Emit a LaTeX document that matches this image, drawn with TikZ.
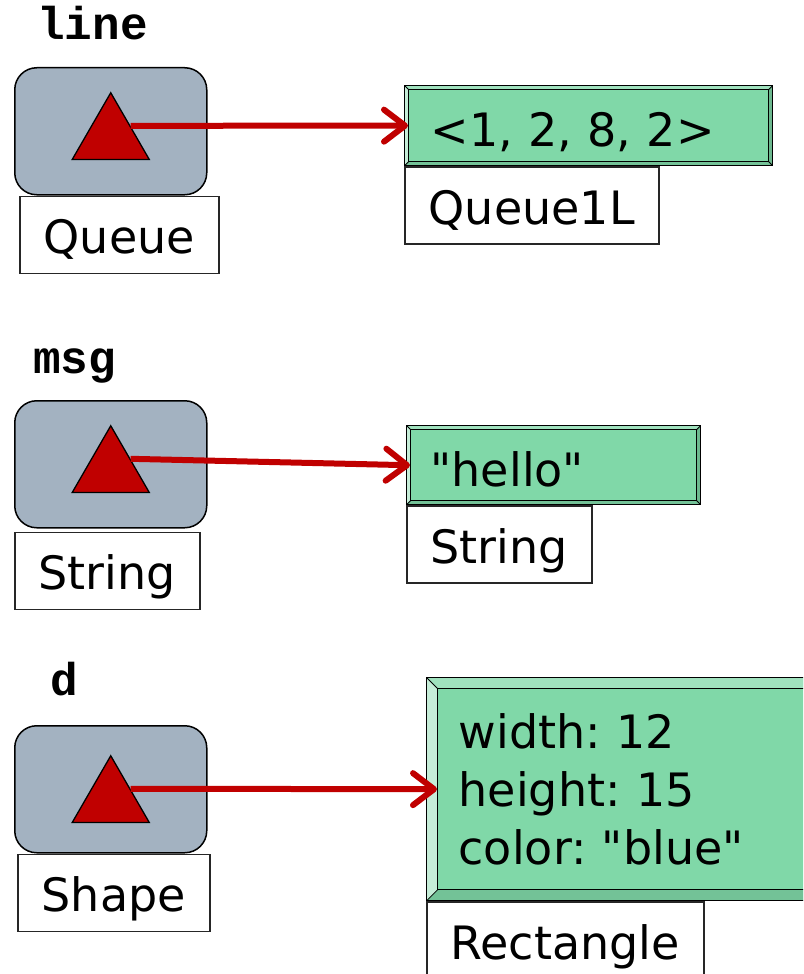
\documentclass[tikz,border=0pt]{standalone}
\usepackage{fontspec}
\setmainfont{DejaVu Sans}[WordSpace=1.25]
\setmonofont{Liberation Mono}
\usetikzlibrary{arrows.meta,positioning,shapes.geometric}
\definecolor{refgray}{HTML}{A3B2C1}
\definecolor{ptrred}{HTML}{C00000}
\definecolor{valgreen}{HTML}{80D8A8}
\frenchspacing

\begin{document}
\begin{tikzpicture}[
    x=1pt, y=-1pt,
    font=\fontsize{46pt}{58pt}\selectfont,
    varname/.style={font=\fontsize{46pt}{50pt}\selectfont\ttfamily\bfseries,
      anchor=base west, inner sep=0pt},
    refbox/.style={draw, line width=1.5pt, fill=refgray, rounded corners=22pt,
      minimum width=192pt, minimum height=127pt, anchor=north west},
    ptr/.style={draw, line width=1.3pt, fill=ptrred, regular polygon,
      regular polygon sides=3, minimum size=89pt, inner sep=0pt},
    typebox/.style={draw=black!85, line width=1.5pt, fill=white,
      minimum height=77pt, inner xsep=24pt, text height=37pt, text depth=0pt,
      anchor=north west},
    valbox/.style={draw, line width=1.3pt, fill=valgreen, align=left,
      anchor=north west, inner ysep=0pt,
      path picture={
        \coordinate (nw) at (path picture bounding box.north west);
        \coordinate (ne) at (path picture bounding box.north east);
        \coordinate (sw) at (path picture bounding box.south west);
        \coordinate (se) at (path picture bounding box.south east);
        \fill[valgreen!45!white] (sw) -- (nw) -- ([shift={(#1,-#1)}]nw) -- ([shift={(#1,#1)}]sw) -- cycle;
        \fill[valgreen!75!white] (nw) -- (ne) -- ([shift={(-#1,-#1)}]ne) -- ([shift={(#1,-#1)}]nw) -- cycle;
        \fill[valgreen!85!black] (ne) -- (se) -- ([shift={(-#1,#1)}]se) -- ([shift={(-#1,-#1)}]ne) -- cycle;
        \fill[valgreen!90!black] (sw) -- (se) -- ([shift={(-#1,#1)}]se) -- ([shift={(#1,#1)}]sw) -- cycle;
        \draw[line width=1.2pt] ([shift={(#1,#1)}]sw) rectangle ([shift={(-#1,-#1)}]ne);
        \draw[line width=0.8pt] (nw) -- ([shift={(#1,-#1)}]nw) (sw) -- ([shift={(#1,#1)}]sw)
          (ne) -- ([shift={(-#1,-#1)}]ne) (se) -- ([shift={(-#1,#1)}]se);
      }},
    oneline/.style={text height=42pt, text depth=0pt},
    ptrarrow/.style={draw=ptrred, line width=6pt,
      -{Straight Barb[length=21pt,width=32pt,round]}},
  ]
  \path[use as bounding box, clip] (0,0) rectangle (803,974);

  % line : Queue -> Queue1L
  \node[varname] (n1) at (37,40) {line};
  \node[refbox] (r1) at (14,67) {};
  \node[ptr] (p1) at ([yshift=-6pt]r1.center) {};
  \node[typebox] (t1) at ([xshift=5pt]r1.south west) {Queue};
  \node[valbox=4pt, oneline, minimum width=368pt, minimum height=80pt,
    inner xsep=26pt, text width=316pt] (v1) at (404,85) {<1, 2, 8, 2>};
  \node[typebox] (c1) at (v1.south west) {Queue1L};
  \draw[ptrarrow, shorten >=-4pt] (p1.side 3) -- (v1.west);

  % msg : String -> String
  \node[varname] (n2) at (33,373) {msg};
  \node[refbox] (r2) at (14,400) {};
  \node[ptr] (p2) at ([yshift=-6pt]r2.center) {};
  \node[typebox] (t2) at ([yshift=-3pt]r2.south west) {String};
  \node[valbox=4pt, oneline, minimum width=294pt, minimum height=79pt,
    inner xsep=24pt, text width=246pt] (v2) at (406,425) {\textquotedbl hello\textquotedbl};
  \node[typebox] (c2) at (v2.south west) {String};
  \draw[ptrarrow, shorten >=-4pt] (p2.side 3) -- (v2.west);

  % d : Shape -> Rectangle
  \node[varname] (n3) at (50,695) {d};
  \node[refbox] (r3) at (14,725) {};
  \node[ptr] (p3) at ([yshift=-11pt]r3.center) {};
  \node[typebox] (t3) at ([xshift=3pt]r3.south west) {Shape};
  \node[valbox=11pt, minimum width=420pt, minimum height=223pt,
    inner xsep=32pt, text width=356pt] (v3) at (426,677)
    {width: 12\\height: 15\\color: \textquotedbl blue\textquotedbl};
  \node[typebox] (c3) at (v3.south west) {Rectangle};
  \draw[ptrarrow, shorten >=-11pt] (p3.side 3) -- (v3.west);
\end{tikzpicture}
\end{document}
